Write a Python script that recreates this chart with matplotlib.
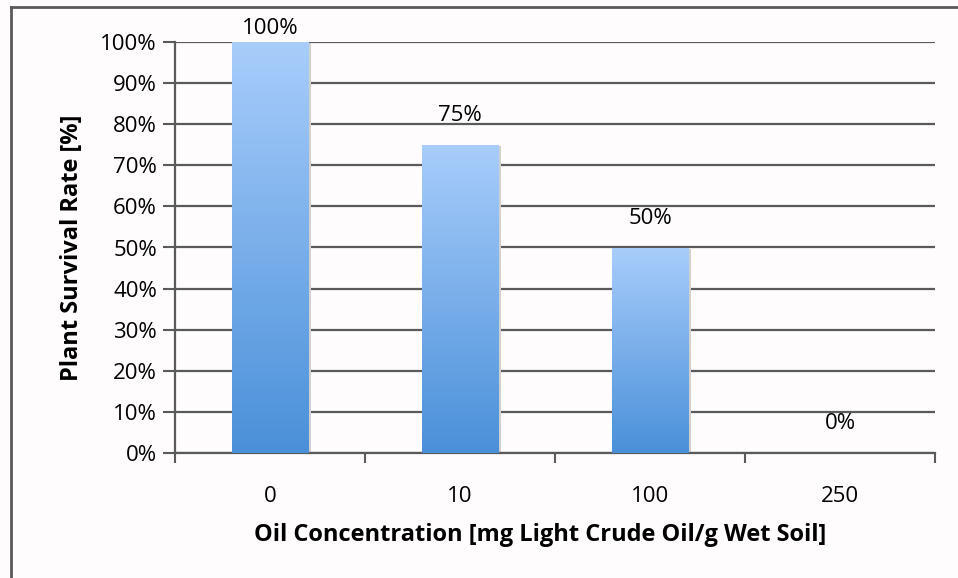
import matplotlib.pyplot as plt
import numpy as np
from matplotlib.colors import LinearSegmentedColormap
from matplotlib.patches import Rectangle
from matplotlib.lines import Line2D

concentrations = ["0", "10", "100", "250"]
survival = [100, 75, 50, 0]
labels = ["100%", "75%", "50%", "0%"]

plt.rcParams['font.family'] = ['Open Sans', 'DejaVu Sans']
FS = 16

fig = plt.figure(figsize=(9.58, 5.78), dpi=100, facecolor="#fefcfc")
ax = fig.add_axes([175 / 958, 1 - 453 / 578, 760 / 958, 411 / 578])
ax.set_facecolor("#fefcfc")

# outer chart border (only top and left edges fall inside the picture)
bx, by = 10.5 / 958, 1 - 6.5 / 578
fig.lines.append(Line2D([bx, 1], [by, by], transform=fig.transFigure,
                        color="#5a5a5a", linewidth=2))
fig.lines.append(Line2D([bx, bx], [0, by], transform=fig.transFigure,
                        color="#5a5a5a", linewidth=2))

x = np.arange(len(concentrations))
bars = ax.bar(x, survival, width=0.405, color="none", edgecolor="none", zorder=3)

cmap = LinearSegmentedColormap.from_list("grad", ["#4a90d9", "#a8cdfb"])
grad = np.linspace(0, 1, 256).reshape(-1, 1)
for b in bars:
    if b.get_height() <= 0:
        continue
    x0, w, h = b.get_x(), b.get_width(), b.get_height()
    # soft shadow
    ax.add_patch(Rectangle((x0 + 0.012, 0), w, h - 0.3, facecolor="#d0d0d0",
                           edgecolor="none", zorder=2))
    im = ax.imshow(grad, cmap=cmap, aspect="auto", origin="lower",
                   extent=[x0, x0 + w, 0, h], zorder=3)
    im.set_clip_path(b)

for xi, v, lab in zip(x, survival, labels):
    # labels sit ~20px above the bar, clamped near the top of the plot
    y = min(v + 4.6, 100.8)
    ax.text(xi, y, lab, ha="center", va="bottom", fontsize=FS, zorder=4)

ax.set_xlim(-0.5, len(concentrations) - 0.5)
ax.set_ylim(0, 100)
ax.set_yticks(np.arange(0, 101, 10))
ax.set_yticklabels([f"{v}%" for v in range(0, 101, 10)], fontsize=FS)
ax.yaxis.grid(True, color="#5a5a5a", linewidth=1.6, zorder=1)
ax.set_axisbelow(True)

ax.set_xticks(x)
ax.set_xticklabels(concentrations, fontsize=FS)
ax.set_xticks(np.arange(-0.5, len(concentrations)), minor=True)
ax.tick_params(axis="x", which="major", length=0, pad=24)
ax.tick_params(axis="x", which="minor", length=7, width=1.5, color="#5a5a5a")
ax.tick_params(axis="y", length=9, width=1.5, color="#5a5a5a", pad=4)

for s in ["top", "right"]:
    ax.spines[s].set_visible(False)
for s in ["left", "bottom"]:
    ax.spines[s].set_color("#5a5a5a")
    ax.spines[s].set_linewidth(1.6)

ax.set_xlabel("Oil Concentration [mg Light Crude Oil/g Wet Soil]",
              fontsize=17, fontweight="bold", labelpad=12)
ax.xaxis.set_label_coords(0.48, -0.17)
ax.set_ylabel("Plant Survival Rate [%]", fontsize=17, fontweight="bold", labelpad=12)

fig.savefig("out.png", dpi=100, facecolor=fig.get_facecolor())
